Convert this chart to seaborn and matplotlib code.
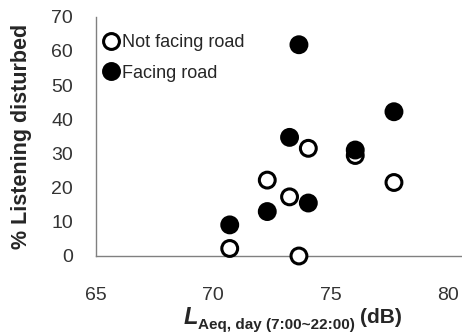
import pandas as pd
import matplotlib.pyplot as plt
import seaborn as sns

# noise level (x) and % listening disturbed (y)
not_facing_x = [70.7, 72.3, 73.25, 73.65, 74.05, 76.05, 77.7]
not_facing_y = [2.2, 22.2, 17.3, 0.0, 31.5, 29.4, 21.5]
facing_x = [70.7, 72.3, 73.25, 73.65, 74.05, 76.05, 77.7]
facing_y = [9.1, 13.0, 34.7, 61.8, 15.5, 31.0, 42.2]

groups = ['Not facing road', 'Facing road']
yticks = [0, 10, 20, 30, 40, 50, 60, 70]
xticks = [65, 70, 75, 80]

df = pd.concat([
    pd.DataFrame({'x': not_facing_x, 'y': not_facing_y, 'group': groups[0]}),
    pd.DataFrame({'x': facing_x, 'y': facing_y, 'group': groups[1]}),
], ignore_index=True)

sns.set_style('white')
plt.rcParams['font.family'] = ['Liberation Sans', 'DejaVu Sans']

W, H = 462, 333
fig = plt.figure(figsize=(W / 100, H / 100), dpi=100)
ax = fig.add_axes([96 / W, 1 - 256 / H, 1 - 96 / W, (256 - 16.7) / H])

sns.scatterplot(data=df, x='x', y='y', hue='group', hue_order=groups,
                palette={groups[0]: 'white', groups[1]: 'black'},
                edgecolor='black', linewidth=2.2, s=130, ax=ax, zorder=3)

ax.set_xlim(65, 80.6)
ax.set_ylim(0, 70)
ax.set_xticks(xticks)
ax.set_yticks(yticks)
for c in ax.collections:
    c.set_clip_on(False)

for side in ['top', 'right']:
    ax.spines[side].set_visible(False)
for side in ['left', 'bottom']:
    ax.spines[side].set_color('#808080')
    ax.spines[side].set_linewidth(1.0)

ax.tick_params(axis='both', direction='out', length=5.5, width=1.0,
               color='#808080', labelcolor='#333333', labelsize=14)
ax.tick_params(axis='x', pad=17)
ax.tick_params(axis='y', pad=11)

ax.set_ylabel('% Listening disturbed', fontsize=15.5, fontweight='bold', labelpad=14)
ax.set_xlabel('')

# x label built from pieces: big italic L, bold subscript, then (dB)
r = fig.canvas.get_renderer()
t1 = fig.text(184 / W, 1 - 324 / H, 'L', fontsize=17, fontweight='bold',
              fontstyle='italic', va='baseline', ha='left')
x1 = t1.get_window_extent(r).x1
t2 = fig.text(x1 / W, 1 - 329 / H, 'Aeq, day (7:00~22:00)', fontsize=11,
              fontweight='bold', va='baseline', ha='left')
x2 = t2.get_window_extent(r).x1
fig.text(x2 / W + 5 / W, 1 - 323 / H, '(dB)', fontsize=15, fontweight='bold',
         va='baseline', ha='left')

sns.move_legend(ax, 'upper left', bbox_to_anchor=(-0.017, 0.98), frameon=False,
                title=None, fontsize=13, handletextpad=0.1, handlelength=1.0,
                labelspacing=0.75, borderaxespad=0.3)

plt.savefig('out.png', dpi=100)
